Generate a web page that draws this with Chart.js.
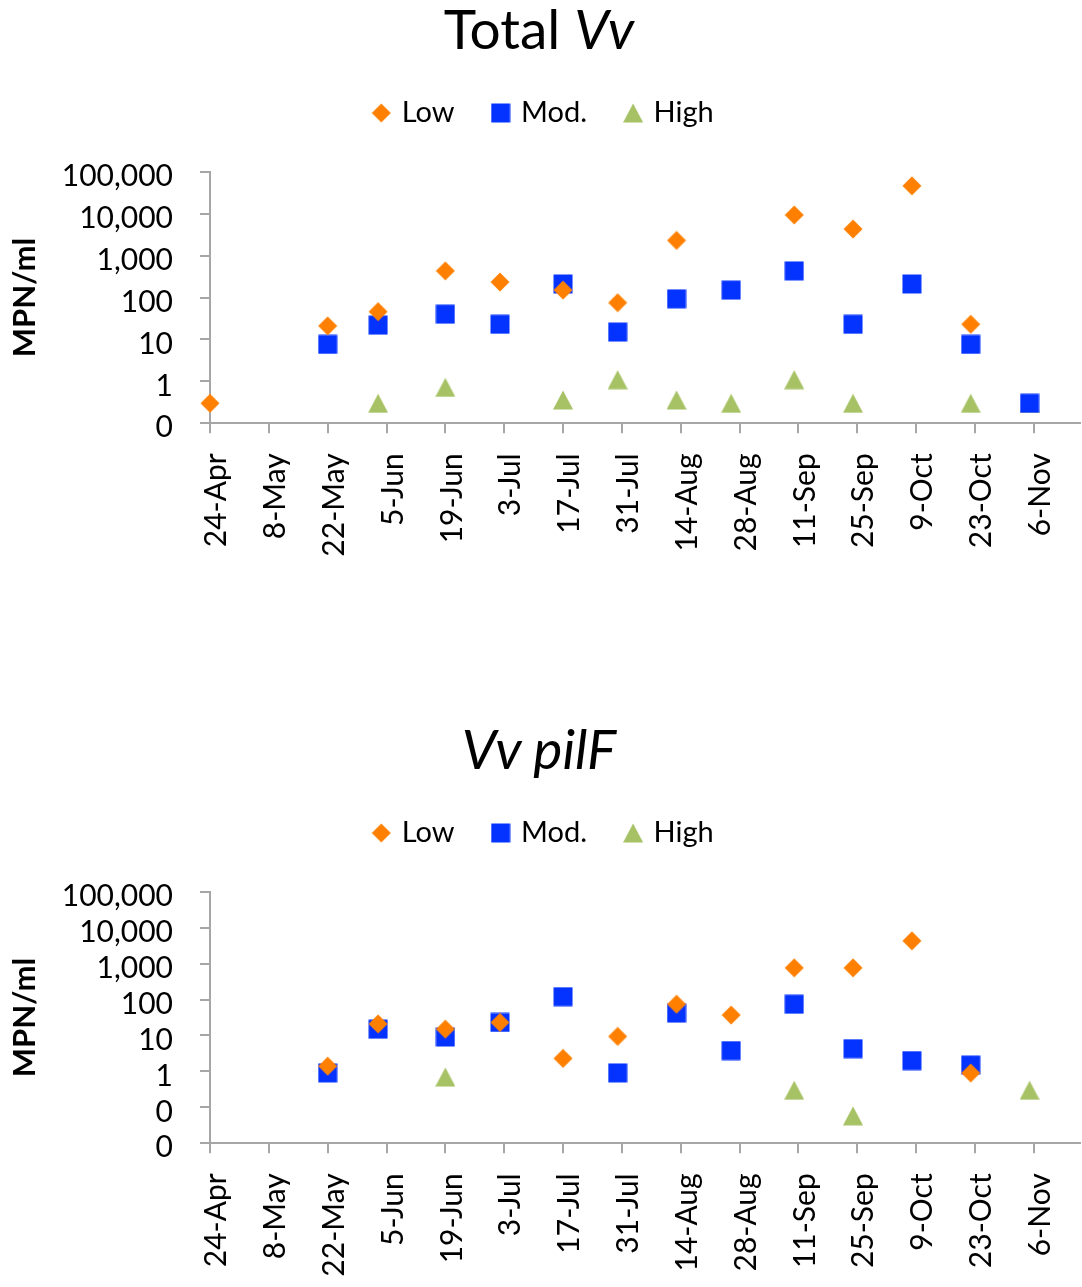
<!DOCTYPE html>
<html>
<head>
<meta charset="utf-8">
<script src="https://cdn.jsdelivr.net/npm/chart.js@4.4.1/dist/chart.umd.min.js"></script>
<style>
  html, body { margin: 0; padding: 0; background: #fff; }
  body { width: 1082px; height: 1287px; position: relative; overflow: hidden; font-family: Lato, sans-serif; }
  .box { position: absolute; left: 0; width: 1082px; }
  .title { position: absolute; left: 0; width: 1078px; text-align: center; font-size: 55px; line-height: 55px; color: #000; }
</style>
</head>
<body>
<div class="box" style="top:0;height:720px"><canvas id="total" width="1082" height="720"></canvas></div>
<div class="box" style="top:720px;height:567px"><canvas id="pilf" width="1082" height="567"></canvas></div>
<div class="title" style="top:1px">Total <i>Vv</i></div>
<div class="title" style="top:721px"><i>Vv pilF</i></div>
<script>
// sampling dates and axis tick dates
const sampleDates = ['24-Apr', '22-May', '3-Jun', '19-Jun', '2-Jul', '17-Jul', '30-Jul', '13-Aug', '26-Aug', '10-Sep', '24-Sep', '8-Oct', '22-Oct', '5-Nov'];
const tickDates = ['24-Apr', '8-May', '22-May', '5-Jun', '19-Jun', '3-Jul', '17-Jul', '31-Jul', '14-Aug', '28-Aug', '11-Sep', '25-Sep', '9-Oct', '23-Oct', '6-Nov'];
const seriesNames = ['Low', 'Mod.', 'High'];

// Total Vv (MPN/ml)
const totalLow  = [0.3, 21, 46, 430, 234, 150, 75, 2300, null, 9300, 4300, 46000, 23, null];
const totalMod  = [null, 7.6, 22, 40, 23, 210, 15, 93, 150, 430, 23, 210, 7.6, 0.3];
const totalHigh = [null, null, 0.3, 0.72, null, 0.36, 1.1, 0.36, 0.3, 1.1, 0.3, null, 0.3, 0.3];

// Vv pilF (MPN/ml)
const pilfLow  = [null, 1.4, 21, 15, 23, 2.3, 9.4, 74, 37, 760, 760, 4300, 0.9, null];
const pilfMod  = [null, 0.91, 15, 9.1, 23, 120, 0.91, 42, 3.8, 74, 4.3, 2.0, 1.5, null];
const pilfHigh = [null, null, null, 0.7, null, null, null, null, null, 0.3, 0.058, null, null, 0.3];

const totalYTicks = [0.1, 1, 10, 100, 1000, 10000, 100000];
const pilfYTicks  = [0.01, 0.1, 1, 10, 100, 1000, 10000, 100000];

const COLORS = ['#FF8000', '#0433FF', '#A6C264'];
const AXIS = '#A6A6A6';
const MONTHS = ['Jan', 'Feb', 'Mar', 'Apr', 'May', 'Jun', 'Jul', 'Aug', 'Sep', 'Oct', 'Nov', 'Dec'];

// days since 24-Apr
function dayOf(label) {
  const [d, m] = label.split('-');
  return (Date.UTC(2013, MONTHS.indexOf(m), +d) - Date.UTC(2013, 3, 24)) / 86400000;
}

function marker(shape, color) {
  const c = document.createElement('canvas');
  c.width = 20; c.height = 20;
  const g = c.getContext('2d');
  g.fillStyle = color;
  g.beginPath();
  if (shape === 'diamond') {
    g.moveTo(10, 0.5); g.lineTo(19.5, 10); g.lineTo(10, 19.5); g.lineTo(0.5, 10);
  } else if (shape === 'square') {
    g.rect(0.5, 0.5, 19, 19);
  } else {
    g.moveTo(10, 0.5); g.lineTo(20, 19.5); g.lineTo(0, 19.5);
  }
  g.closePath();
  g.fill();
  return c;
}

Chart.defaults.color = '#000';
Chart.defaults.font.family = 'Lato';

function makeChart(id, series, yTicks, canvasHeight) {
  const shapes = ['diamond', 'square', 'triangle'];
  const toPoints = vals => sampleDates
    .map((d, i) => ({ x: dayOf(d), y: vals[i] }))
    .filter(p => p.y !== null);

  return new Chart(document.getElementById(id), {
    type: 'scatter',
    data: {
      datasets: series.map((vals, i) => ({
        label: seriesNames[i],
        data: toPoints(vals),
        pointStyle: marker(shapes[i], COLORS[i]),
        backgroundColor: COLORS[i],
        borderWidth: 0,
        pointRadius: 10,
        pointHoverRadius: 10,
        clip: false,
      })),
    },
    options: {
      responsive: false,
      animation: false,
      devicePixelRatio: 1,
      layout: { autoPadding: false, padding: { top: 58.5, left: 9, right: 2, bottom: 0 } },
      plugins: {
        legend: {
          labels: {
            usePointStyle: true,
            pointStyleWidth: 12,
            padding: 40,
            font: { size: 29 },
          },
        },
        // spacer between legend and plot
        subtitle: { display: true, text: '', weight: 500, padding: 0, font: { size: 30, lineHeight: 1.14 } },
        tooltip: { enabled: false },
      },
      scales: {
        x: {
          type: 'linear',
          min: 0,
          max: 207,
          afterBuildTicks: s => { s.ticks = tickDates.map(t => ({ value: dayOf(t) })); },
          afterFit: s => { s.height = canvasHeight - 423.3; s.paddingLeft = 0; s.paddingRight = 0; },
          grid: { drawOnChartArea: false, drawTicks: true, tickLength: 10, color: AXIS, lineWidth: 2 },
          border: { display: true, color: AXIS, width: 2 },
          ticks: {
            autoSkip: false,
            minRotation: 90,
            maxRotation: 90,
            padding: 20,
            labelOffset: 6.5,
            font: { size: 30 },
            callback: (v, i) => tickDates[i],
          },
        },
        y: {
          type: 'logarithmic',
          min: yTicks[0],
          max: yTicks[yTicks.length - 1],
          afterBuildTicks: s => { s.ticks = yTicks.map(v => ({ value: v })); },
          afterFit: s => { s.width = 201; s.paddingTop = 0; s.paddingBottom = 0; },
          grid: { drawOnChartArea: false, drawTicks: true, tickLength: 10, color: AXIS, lineWidth: 2 },
          border: { display: true, color: AXIS, width: 2 },
          title: {
            display: true,
            text: 'MPN/ml',
            font: { size: 31, weight: 'bold', lineHeight: 1 },
            padding: { top: 0, bottom: 0 },
          },
          ticks: {
            autoSkip: false,
            padding: 27,
            labelOffset: 4.5,
            font: { size: 30 },
            callback: v => (v < 1 ? '0' : Number(v).toLocaleString('en-US')),
          },
        },
      },
    },
  });
}

makeChart('total', [totalLow, totalMod, totalHigh], totalYTicks, 720);
makeChart('pilf', [pilfLow, pilfMod, pilfHigh], pilfYTicks, 567);
</script>
</body>
</html>
